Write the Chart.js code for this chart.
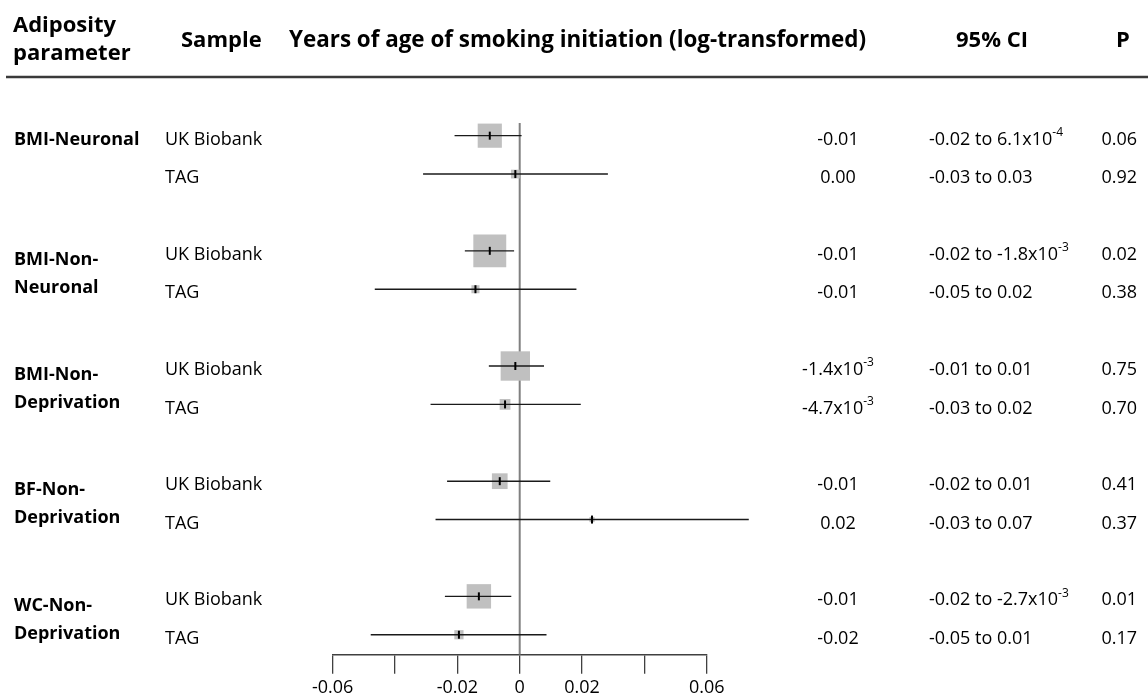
<!DOCTYPE html>
<html>
<head>
<meta charset="utf-8">
<script src="https://cdn.jsdelivr.net/npm/chart.js@4/dist/chart.umd.min.js"></script>
<style>
  html, body { margin: 0; padding: 0; background: #fff; }
  #wrap { width: 1148px; height: 700px; position: relative; }
</style>
</head>
<body>
<div id="wrap"><canvas id="forest"></canvas></div>
<script>
// Adiposity parameters (group labels, split over lines) and samples within each group
const groups = [
  ["BMI-Neuronal"],
  ["BMI-Non-", "Neuronal"],
  ["BMI-Non-", "Deprivation"],
  ["BF-Non-", "Deprivation"],
  ["WC-Non-", "Deprivation"]
];
const samples = ["UK Biobank", "TAG"];

// Effect estimates and 95% confidence limits, one per row (group x sample)
const estimates = [-0.0096, -0.0014, -0.0096, -0.0142, -0.0014, -0.0047, -0.0064, 0.0232, -0.0131, -0.0195];
const lowerCI   = [-0.0209, -0.0310, -0.0176, -0.0465, -0.0099, -0.0286, -0.0233, -0.0270, -0.0240, -0.0478];
const upperCI   = [0.00061, 0.0283, -0.0018, 0.0182, 0.0078, 0.0196, 0.0098, 0.0735, -0.0027, 0.0086];

// Text columns ("^" marks a superscript exponent)
const estimateText = ["-0.01", "0.00", "-0.01", "-0.01", "-1.4x10^-3", "-4.7x10^-3", "-0.01", "0.02", "-0.01", "-0.02"];
const ciText = ["-0.02 to 6.1x10^-4", "-0.03 to 0.03", "-0.02 to -1.8x10^-3", "-0.05 to 0.02", "-0.01 to 0.01",
                "-0.03 to 0.02", "-0.02 to 0.01", "-0.03 to 0.07", "-0.02 to -2.7x10^-3", "-0.05 to 0.01"];
const pText = ["0.06", "0.92", "0.02", "0.38", "0.75", "0.70", "0.41", "0.37", "0.01", "0.17"];

// X axis ticks and their labels
const xTicks = [-0.06, -0.04, -0.02, 0, 0.02, 0.04, 0.06];
const xTickLabels = ["-0.06", "", "-0.02", "0", "0.02", "", "0.06"];

// Row position on the y scale: two rows per group, one blank row between groups
const rowPos = estimates.map((_, i) => Math.floor(i / 2) * 3 + (i % 2));
const Y_MIN = -0.33, Y_MAX = 13.52;

const FONT = "'Open Sans', 'DejaVu Sans', sans-serif";

// Box side in px is proportional to 1/CI width (inverse standard error)
const boxRadius = estimates.map((_, i) => (0.52 / (upperCI[i] - lowerCI[i])) / (2 * Math.SQRT1_2));

const ciDatasets = estimates.map((_, i) => ({
  type: 'line',
  data: [{ x: lowerCI[i], y: rowPos[i] }, { x: upperCI[i], y: rowPos[i] }],
  borderColor: '#1a1a1a',
  borderWidth: 1.4,
  pointRadius: 0,
  clip: false,
  order: 2
}));

function drawRich(ctx, text, x, y, align, size, weight) {
  const parts = text.split('^');
  const base = parts[0], sup = parts[1] || '';
  const supSize = Math.round(size * 0.66);
  ctx.font = `${weight} ${size}px ${FONT}`;
  const wb = ctx.measureText(base).width;
  ctx.font = `${weight} ${supSize}px ${FONT}`;
  const ws = sup ? ctx.measureText(sup).width : 0;
  const total = wb + ws;
  let x0 = x;
  if (align === 'center') x0 = x - total / 2;
  else if (align === 'right') x0 = x - total;
  ctx.textAlign = 'left';
  ctx.textBaseline = 'middle';
  ctx.font = `${weight} ${size}px ${FONT}`;
  ctx.fillText(base, x0, y);
  if (sup) {
    ctx.font = `${weight} ${supSize}px ${FONT}`;
    ctx.fillText(sup, x0 + wb, y - 7);
  }
}

const tablePlugin = {
  id: 'tableText',
  afterDraw(chart) {
    const ctx = chart.ctx;
    const ys = chart.scales.y;
    ctx.save();
    ctx.fillStyle = '#000';

    // Header
    ctx.textBaseline = 'middle';
    ctx.font = `bold 22px ${FONT}`;
    ctx.textAlign = 'left';
    ctx.fillText('Adiposity', 13, 26);
    ctx.fillText('parameter', 13, 54);
    ctx.fillText('Sample', 181, 41);
    ctx.font = `bold 22.4px ${FONT}`;
    ctx.fillText('Years of age of smoking initiation (log-transformed)', 289, 41);
    ctx.font = `bold 22px ${FONT}`;
    ctx.textAlign = 'center';
    ctx.fillText('95% CI', 992, 41);
    ctx.fillText('P', 1123, 41);

    // Header rule
    ctx.strokeStyle = '#3a3a3a';
    ctx.lineWidth = 2.5;
    ctx.beginPath();
    ctx.moveTo(6, 77);
    ctx.lineTo(1148, 77);
    ctx.stroke();

    // Rows
    estimates.forEach((_, i) => {
      const y = ys.getPixelForValue(rowPos[i]) + 4;
      ctx.font = `18px ${FONT}`;
      ctx.textAlign = 'left';
      ctx.fillText(samples[i % 2], 165, y);
      drawRich(ctx, estimateText[i], 838, y, 'center', 18, 'normal');
      drawRich(ctx, ciText[i], 929, y, 'left', 18, 'normal');
      drawRich(ctx, pText[i], 1137, y, 'right', 18, 'normal');
    });

    // Group labels
    ctx.font = `bold 18px ${FONT}`;
    ctx.textAlign = 'left';
    groups.forEach((lines, g) => {
      const y1 = ys.getPixelForValue(g * 3) + 4;
      const y2 = ys.getPixelForValue(g * 3 + 1) + 4;
      if (lines.length === 1) {
        ctx.fillText(lines[0], 14, y1);
      } else {
        const mid = (y1 + y2) / 2;
        ctx.fillText(lines[0], 14, mid - 14);
        ctx.fillText(lines[1], 14, mid + 14);
      }
    });
    ctx.restore();
  }
};

new Chart(document.getElementById('forest'), {
  type: 'scatter',
  data: {
    datasets: [
      {
        type: 'scatter',
        data: estimates.map((v, i) => ({ x: v, y: rowPos[i] })),
        pointStyle: 'line',
        rotation: 90,
        pointRadius: 4,
        borderWidth: 2,
        borderColor: '#000',
        clip: false,
        order: 1
      },
      ...ciDatasets,
      {
        type: 'scatter',
        data: estimates.map((v, i) => ({ x: v, y: rowPos[i] })),
        pointStyle: 'rect',
        pointRadius: boxRadius,
        backgroundColor: '#c0c0c0',
        borderWidth: 0,
        clip: false,
        order: 3
      },
      {
        type: 'line',
        data: [{ x: 0, y: Y_MIN }, { x: 0, y: Y_MAX }],
        borderColor: '#808080',
        borderWidth: 2,
        pointRadius: 0,
        order: 4
      }
    ]
  },
  options: {
    responsive: true,
    maintainAspectRatio: false,
    animation: false,
    events: [],
    layout: { padding: { left: 332.7, right: 441.3, top: 123, bottom: 0.3 } },
    plugins: { legend: { display: false }, tooltip: { enabled: false } },
    scales: {
      x: {
        type: 'linear',
        position: 'bottom',
        min: -0.06,
        max: 0.06,
        afterBuildTicks: (scale) => { scale.ticks = xTicks.map(v => ({ value: v })); },
        afterFit: (scale) => { scale.height = 45; },
        ticks: {
          callback: (v, i) => xTickLabels[i],
          color: '#000',
          font: { family: FONT, size: 18 },
          padding: 3,
          maxRotation: 0,
          autoSkip: false
        },
        grid: { drawOnChartArea: false, drawTicks: true, tickLength: 19, color: '#404040', lineWidth: 1.3 },
        border: { display: true, color: '#404040', width: 1.5 }
      },
      y: {
        type: 'linear',
        reverse: true,
        min: Y_MIN,
        max: Y_MAX,
        display: false
      }
    }
  },
  plugins: [tablePlugin]
});
</script>
</body>
</html>
